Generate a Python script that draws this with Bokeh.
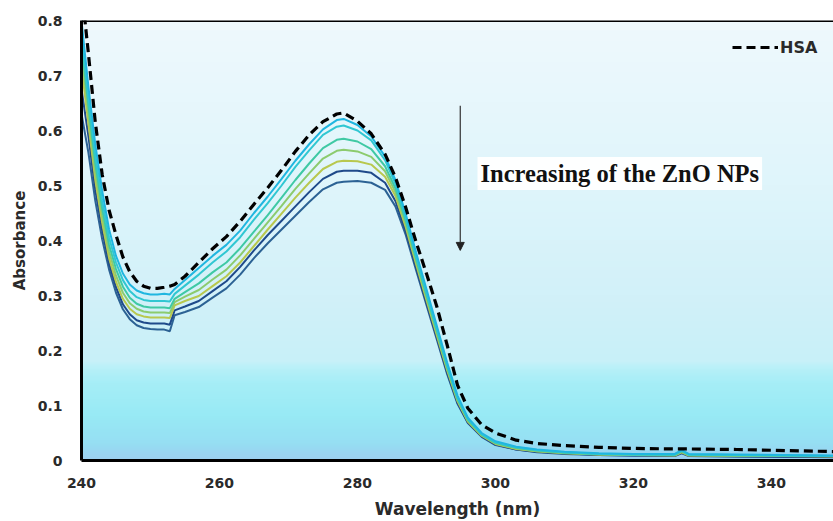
import numpy as np
from bokeh.plotting import figure
from bokeh.models import (Range1d, FixedTicker, Legend, LegendItem, Label, Arrow,
                          NormalHead, Span)
from bokeh.embed import file_html
from bokeh.resources import INLINE

# ---------------- data ----------------
wavelength = [240, 241, 242, 243, 244, 245, 246, 247, 248, 249, 250, 251, 252, 252.8, 253.5,
              255, 257, 259, 261, 263, 265, 267, 269, 271, 273, 275, 277, 278, 280, 282, 284,
              285.5, 287, 288.5, 290, 291.5, 293, 294.5, 296, 298, 300, 303, 306, 310, 315,
              320, 326, 327, 328, 335, 342, 350]

hsa = [0.860, 0.740, 0.615, 0.520, 0.455, 0.410, 0.370, 0.343, 0.326, 0.317, 0.313, 0.313,
       0.315, 0.317, 0.320, 0.335, 0.360, 0.385, 0.407, 0.435, 0.466, 0.496, 0.528, 0.562,
       0.592, 0.616, 0.630, 0.632, 0.617, 0.594, 0.557, 0.515, 0.460, 0.397, 0.340, 0.280,
       0.210, 0.137, 0.095, 0.065, 0.050, 0.037, 0.031, 0.027, 0.024, 0.022, 0.021, 0.021,
       0.021, 0.020, 0.018, 0.016]

zno_1 = [0.800, 0.680, 0.575, 0.490, 0.420, 0.372, 0.340, 0.320, 0.309, 0.304, 0.302, 0.302,
         0.303, 0.302, 0.312, 0.328, 0.350, 0.372, 0.392, 0.418, 0.450, 0.480, 0.512, 0.545,
         0.575, 0.602, 0.619, 0.621, 0.610, 0.589, 0.553, 0.510, 0.448, 0.378, 0.312, 0.245,
         0.178, 0.118, 0.078, 0.050, 0.035, 0.025, 0.020, 0.016, 0.013, 0.012, 0.012, 0.019,
         0.012, 0.011, 0.010, 0.009]

zno_2 = [0.780, 0.660, 0.555, 0.472, 0.405, 0.360, 0.328, 0.308, 0.297, 0.292, 0.290, 0.290,
         0.290, 0.289, 0.303, 0.318, 0.338, 0.360, 0.380, 0.406, 0.438, 0.468, 0.500, 0.534,
         0.564, 0.592, 0.607, 0.609, 0.600, 0.582, 0.546, 0.503, 0.442, 0.372, 0.306, 0.240,
         0.174, 0.115, 0.076, 0.048, 0.033, 0.024, 0.019, 0.015, 0.012, 0.011, 0.011, 0.018,
         0.011, 0.010, 0.009, 0.008]

zno_3 = [0.760, 0.645, 0.540, 0.458, 0.392, 0.348, 0.316, 0.296, 0.285, 0.280, 0.278, 0.278,
         0.278, 0.277, 0.294, 0.306, 0.322, 0.342, 0.360, 0.386, 0.416, 0.446, 0.478, 0.510,
         0.540, 0.568, 0.583, 0.585, 0.580, 0.566, 0.535, 0.495, 0.436, 0.367, 0.301, 0.236,
         0.170, 0.112, 0.074, 0.047, 0.032, 0.023, 0.018, 0.014, 0.012, 0.011, 0.010, 0.017,
         0.010, 0.009, 0.009, 0.008]

zno_4 = [0.740, 0.630, 0.525, 0.445, 0.380, 0.336, 0.305, 0.286, 0.276, 0.271, 0.269, 0.269,
         0.269, 0.268, 0.288, 0.298, 0.310, 0.329, 0.347, 0.373, 0.403, 0.433, 0.463, 0.494,
         0.522, 0.549, 0.563, 0.565, 0.562, 0.552, 0.526, 0.488, 0.430, 0.362, 0.297, 0.232,
         0.167, 0.110, 0.072, 0.046, 0.031, 0.022, 0.017, 0.014, 0.011, 0.010, 0.010, 0.016,
         0.010, 0.009, 0.008, 0.008]

zno_5 = [0.715, 0.612, 0.510, 0.432, 0.368, 0.325, 0.294, 0.276, 0.266, 0.262, 0.260, 0.260,
         0.260, 0.259, 0.282, 0.290, 0.299, 0.317, 0.335, 0.360, 0.390, 0.420, 0.449, 0.478,
         0.505, 0.530, 0.543, 0.545, 0.544, 0.538, 0.516, 0.481, 0.424, 0.357, 0.292, 0.228,
         0.164, 0.108, 0.071, 0.045, 0.030, 0.021, 0.017, 0.013, 0.011, 0.010, 0.009, 0.015,
         0.009, 0.008, 0.008, 0.007]

zno_6 = [0.675, 0.590, 0.492, 0.418, 0.358, 0.315, 0.284, 0.266, 0.255, 0.251, 0.249, 0.249,
         0.249, 0.247, 0.273, 0.280, 0.290, 0.308, 0.326, 0.352, 0.382, 0.410, 0.436, 0.462,
         0.488, 0.512, 0.525, 0.527, 0.527, 0.523, 0.505, 0.472, 0.417, 0.351, 0.287, 0.224,
         0.160, 0.105, 0.069, 0.044, 0.029, 0.020, 0.016, 0.013, 0.010, 0.009, 0.009, 0.014,
         0.009, 0.008, 0.007, 0.007]

zno_7 = [0.630, 0.560, 0.472, 0.402, 0.347, 0.305, 0.275, 0.257, 0.246, 0.241, 0.239, 0.238,
         0.238, 0.235, 0.264, 0.270, 0.279, 0.296, 0.313, 0.338, 0.368, 0.395, 0.420, 0.445,
         0.470, 0.493, 0.505, 0.507, 0.508, 0.505, 0.492, 0.462, 0.410, 0.346, 0.283, 0.220,
         0.157, 0.103, 0.068, 0.043, 0.028, 0.020, 0.015, 0.012, 0.010, 0.009, 0.008, 0.013,
         0.008, 0.007, 0.007, 0.006]

series_colors = ["#20b6e0", "#30c7d2", "#3fc9a4", "#8ccb6e", "#b8c84e", "#1f4a8a", "#2c6294"]

x_ticks = [240, 260, 280, 300, 320, 340]
y_ticks = [0, 0.1, 0.2, 0.3, 0.4, 0.5, 0.6, 0.7, 0.8]
y_tick_labels = ["0", "0.1", "0.2", "0.3", "0.4", "0.5", "0.6", "0.7", "0.8"]

legend_label = "HSA"
annotation_text = "Increasing of the ZnO NPs"
x_title = "Wavelength (nm)"
y_title = "Absorbance"

# ---------------- figure ----------------
X0, X1 = 240, 349
Y0, Y1 = 0, 0.8

p = figure(width=833, height=521, output_backend="svg", toolbar_location=None,
           x_range=Range1d(X0, X1), y_range=Range1d(Y0, Y1),
           min_border_left=81, min_border_right=0, min_border_top=20, min_border_bottom=61)
p.background_fill_color = "white"
p.border_fill_color = "white"
p.outline_line_color = None
p.grid.visible = False

# background vertical gradient (style only)
stops_y = np.array([0.0, 0.03, 0.08, 0.14, 0.165, 0.18, 0.30, 0.50, 0.80])
stops_rgb = np.array([
    [0x9d, 0xcf, 0xf0], [0x96, 0xdf, 0xf3], [0x98, 0xea, 0xf5], [0xa6, 0xee, 0xf7],
    [0xb6, 0xf0, 0xf8], [0xc8, 0xf0, 0xf8], [0xd2, 0xf1, 0xf9], [0xdf, 0xf5, 0xfb],
    [0xef, 0xf9, 0xfd]])
ny = 400
yy = np.linspace(Y0, Y1, ny)
rgb = np.stack([np.interp(yy, stops_y, stops_rgb[:, k]) for k in range(3)], axis=1).astype(np.uint32)
img = np.empty((ny, 1), dtype=np.uint32)
view = img.view(dtype=np.uint8).reshape((ny, 1, 4))
view[:, 0, 0] = rgb[:, 0]
view[:, 0, 1] = rgb[:, 1]
view[:, 0, 2] = rgb[:, 2]
view[:, 0, 3] = 255
p.image_rgba(image=[img], x=X0, y=Y0, dw=X1 - X0, dh=Y1 - Y0, level="image")

# curves
series = [zno_1, zno_2, zno_3, zno_4, zno_5, zno_6, zno_7]
for vals, col in reversed(list(zip(series, series_colors))):
    p.line(wavelength, vals, line_color=col, line_width=2)

hsa_r = p.line(wavelength, hsa, line_color="black", line_width=3.2, line_dash="9 5")

# axes
for ax in (p.xaxis[0], p.yaxis[0]):
    ax.axis_line_color = "black"
    ax.axis_line_width = 3
    ax.major_tick_out = 0
    ax.major_tick_in = 0
    ax.minor_tick_out = 0
    ax.minor_tick_in = 0
    ax.major_label_text_font = "DejaVu Sans"
    ax.major_label_text_font_style = "bold"
    ax.major_label_text_font_size = "14px"
    ax.major_label_text_color = "#2a2a2a"
    ax.axis_label_text_font = "DejaVu Sans"
    ax.axis_label_text_font_style = "bold"
    ax.axis_label_text_color = "#2a2a2a"

p.xaxis.axis_label_text_font_size = "17px"
p.yaxis.axis_label_text_font_size = "15px"
p.xaxis.ticker = FixedTicker(ticks=x_ticks)
p.yaxis.ticker = FixedTicker(ticks=y_ticks)
p.yaxis.major_label_overrides = {t: s for t, s in zip(y_ticks, y_tick_labels)}
p.xaxis.major_label_standoff = 17
p.yaxis.major_label_standoff = 19
p.xaxis.axis_label = x_title
p.yaxis.axis_label = y_title
p.xaxis.axis_label_standoff = 8
p.yaxis.axis_label_standoff = 6

# top frame line
p.add_layout(Span(location=Y1, dimension="width", line_color="black", line_width=3))

# annotation arrow and text
p.add_layout(Arrow(end=NormalHead(size=8, fill_color="#222", line_color="#222"),
                   x_start=294.9, y_start=0.645, x_end=294.9, y_end=0.382,
                   line_color="#333", line_width=1.2))
p.add_layout(Label(x=297.4, y=0.522, text=annotation_text, text_font="Liberation Serif",
                   text_font_style="bold", text_font_size="24.5px", text_color="#111",
                   text_baseline="middle", background_fill_color="white",
                   background_fill_alpha=0.95, padding=3))

# legend
legend = Legend(items=[LegendItem(label=legend_label, renderers=[hsa_r])],
                location=(651, 403), padding=0, margin=0, glyph_width=46, glyph_height=20,
                label_standoff=2, label_text_font="DejaVu Sans", label_text_font_style="bold",
                label_text_font_size="16px", label_text_color="#2a2a2a",
                background_fill_alpha=0, border_line_alpha=0)
p.add_layout(legend)

open("out.html", "w").write(file_html(p, INLINE))
